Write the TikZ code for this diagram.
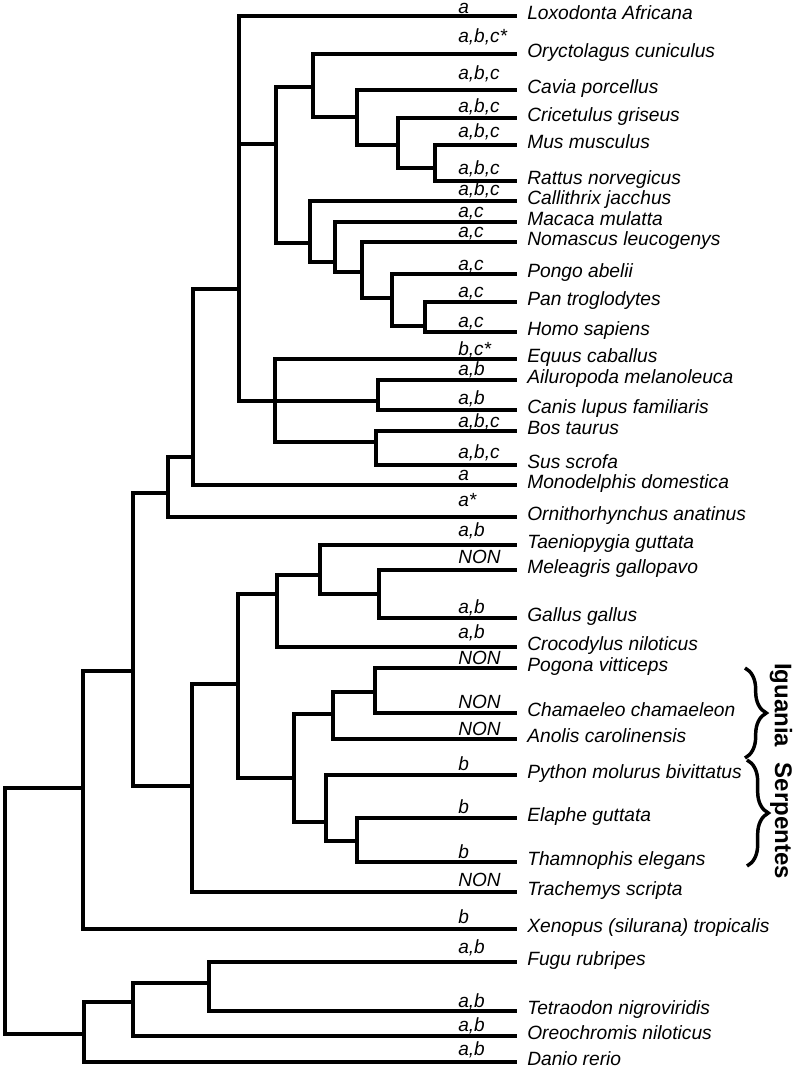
\documentclass[tikz,border=0pt]{standalone}
\usepackage{fontspec}
\setmainfont{Liberation Sans}
\usetikzlibrary{decorations.pathreplacing}

\begin{document}
\begin{tikzpicture}[x=0.75pt,y=-0.75pt,
		branch/.style={line width=3.4pt},
		species/.style={anchor=mid west,inner xsep=7.5pt,inner ysep=0pt,font=\itshape\fontsize{14.4}{16}\selectfont},
		tag/.style={anchor=base west,inner sep=0pt,font=\itshape\fontsize{14.3}{16}\selectfont},
		clade/.style={rotate=-90,inner sep=0pt,font=\bfseries\fontsize{18}{20}\selectfont},
		cbrace/.style={decorate,decoration={brace,amplitude=16pt},line width=2.6pt}]
	\useasboundingbox (0,0) rectangle (800,1073);
	% \draw[style=help lines] (0,0) grid (800,1073);

	% splits: x of the split, y where it hangs on its parent
	\foreach \n/\x/\y in {root/5/900, tetrapoda/83/788, amniota/133/671, mammalia/168/493,
			theria/193/457, boreo/239/289, euarch/276/144, glires/313/87, rodentia/357/117,
			muridae/398/145, murinae/435/168, primates/310/243, catarrhini/335/262,
			hominoidea/362/272, hominidae/392/298, homininae/425/326, laura/275/401,
			carnivora/378/401, cetart/376/442, sauropsida/192/786, diapsida/238/684,
			archo/277/594, aves/320/575, galloans/379/594, squamata/294/778, iguania/333/714,
			acro/375/692, serpentes/326/822, colub/357/841, teleost/84/1034, percom/133/1002,
			tetraod/209/983}
		\coordinate (\n) at (\x,\y);

	\foreach \p/\c in {root/tetrapoda, root/teleost, tetrapoda/amniota, amniota/mammalia,
			amniota/sauropsida, mammalia/theria, theria/boreo, boreo/euarch, boreo/laura,
			euarch/glires, euarch/primates, glires/rodentia, rodentia/muridae, muridae/murinae,
			primates/catarrhini, catarrhini/hominoidea, hominoidea/hominidae, hominidae/homininae,
			laura/carnivora, laura/cetart, sauropsida/diapsida, diapsida/archo, diapsida/squamata,
			archo/aves, aves/galloans, squamata/iguania, squamata/serpentes, iguania/acro,
			serpentes/colub, teleost/percom, percom/tetraod}
		\draw[branch] (\p) |- (\c);

	% leaves: name/parent/y/tag baseline/tag/species
	\foreach \n/\p/\y/\b/\t/\s in {
			loxo/boreo/16/13.5/a/Loxodonta Africana,
			oryc/glires/54/43/{a,b,c*}/Oryctolagus cuniculus,
			cavi/rodentia/90/80/{a,b,c}/Cavia porcellus,
			cric/muridae/118/113/{a,b,c}/Cricetulus griseus,
			mus/murinae/145/138/{a,b,c}/Mus musculus,
			ratt/murinae/181/175/{a,b,c}/Rattus norvegicus,
			call/primates/201/196/{a,b,c}/Callithrix jacchus,
			maca/catarrhini/222/218/{a,c}/Macaca mulatta,
			noma/hominoidea/242/238/{a,c}/Nomascus leucogenys,
			pong/hominidae/274/270/{a,c}/Pongo abelii,
			pan/homininae/302/297/{a,c}/Pan troglodytes,
			homo/homininae/332/327/{a,c}/Homo sapiens,
			equu/laura/359/355/{b,c*}/Equus caballus,
			ailu/carnivora/380/375/{a,b}/Ailuropoda melanoleuca,
			cani/carnivora/410/404/{a,b}/Canis lupus familiaris,
			bos/cetart/431/427/{a,b,c}/Bos taurus,
			sus/cetart/465/458/{a,b,c}/Sus scrofa,
			mono/theria/485/480/a/Monodelphis domestica,
			orni/mammalia/517/506/a*/Ornithorhynchus anatinus,
			taen/aves/545/536/{a,b}/Taeniopygia guttata,
			mele/galloans/570/563/NON/Meleagris gallopavo,
			gall/galloans/618/613/{a,b}/Gallus gallus,
			croc/archo/647/638/{a,b}/Crocodylus niloticus,
			pogo/acro/668/664/NON/Pogona vitticeps,
			cham/acro/713/708/NON/Chamaeleo chamaeleon,
			anol/iguania/739/735/NON/Anolis carolinensis,
			pyth/serpentes/775/770/b/Python molurus bivittatus,
			elap/colub/818/813/b/Elaphe guttata,
			tham/colub/862/858/b/Thamnophis elegans,
			trac/sauropsida/892/886/NON/Trachemys scripta,
			xeno/tetrapoda/929/923/b/Xenopus (silurana) tropicalis,
			fugu/tetraod/962/953/{a,b}/Fugu rubripes,
			tetr/tetraod/1011/1007/{a,b}/Tetraodon nigroviridis,
			oreo/percom/1036/1031/{a,b}/Oreochromis niloticus,
			dani/teleost/1062/1055/{a,b}/Danio rerio}{
		\node[species] (\n) at (517,\y) {\s};
		\node[tag] (\n-t) at (458,\b) {\t};
		\draw[branch] (\p) |- (\n.mid west);
	}

	% lizards and snakes
	\draw[cbrace] (745,668) -- (745,758);
	\draw[cbrace] (747,760) -- (747,866);
	\node[clade] (igua-l) at (781,705) {Iguania};
	\node[clade] (serp-l) at (781,821) {Serpentes};
\end{tikzpicture}
\end{document}
